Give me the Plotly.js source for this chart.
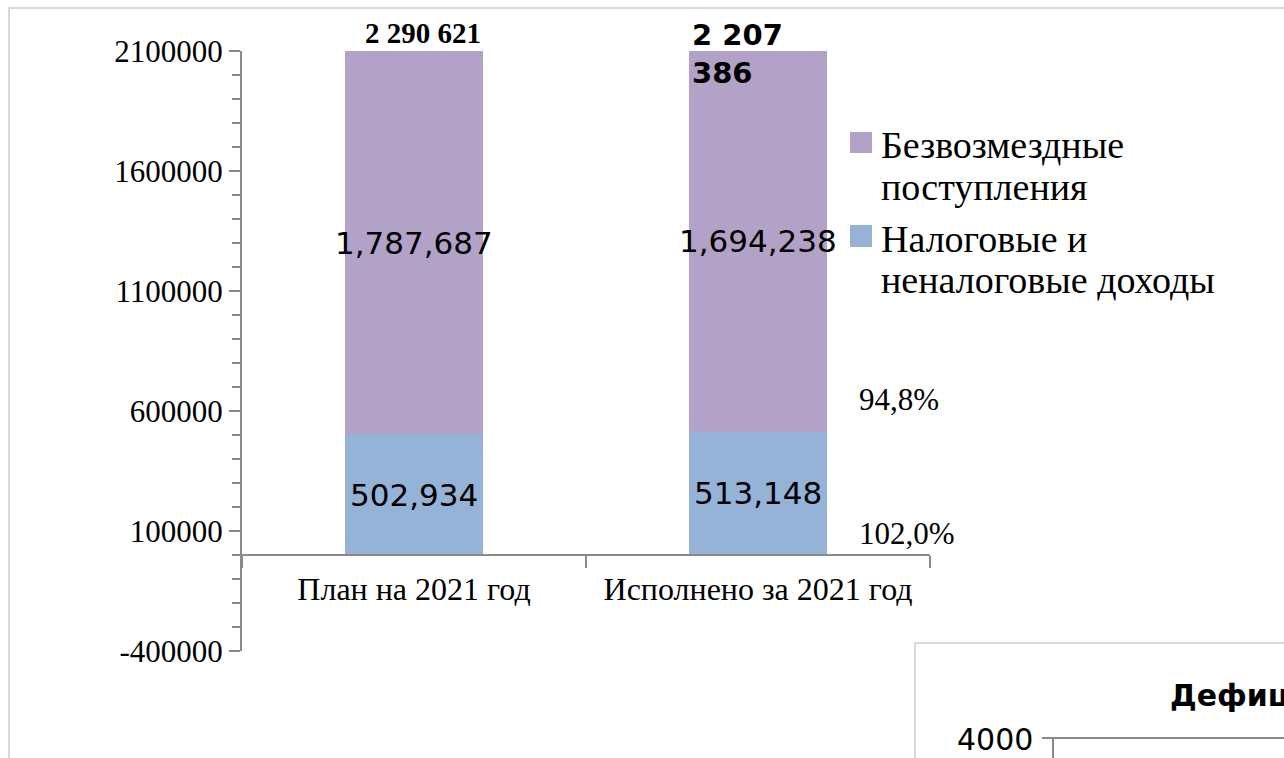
<!DOCTYPE html>
<html>
<head>
<meta charset="utf-8">
<script src="https://cdn.plot.ly/plotly-3.0.1.min.js"></script>
<style>
  html, body { margin: 0; padding: 0; background: #ffffff; }
  #chart { width: 1284px; height: 758px; }
</style>
</head>
<body>
<div id="chart"></div>
<script>
// ---- data ----
const categories = ['План на 2021 год', 'Исполнено за 2021 год'];
const taxIncome = [502934, 513148];          // Налоговые и неналоговые доходы
const grants = [1787687, 1694238];           // Безвозмездные поступления
const totalLabels = ['2 290 621', '2 207<br>386'];
const percentLabels = ['94,8%', '102,0%'];
const seriesNames = ['Налоговые и неналоговые доходы', 'Безвозмездные поступления'];
const legendLines = [['Безвозмездные', 'поступления'], ['Налоговые и', 'неналоговые доходы']];
const yTickVals = [-400000, 100000, 600000, 1100000, 1600000, 2100000];
const yTickText = ['-400000', '100000', '600000', '1100000', '1600000', '2100000'];
const yRange = [-400000, 2100000];
const deficitTitle = 'Дефицит';
const deficitTick = '4000';

// ---- styling ----
const BLUE = '#95B3D7';
const PURPLE = '#B3A2C7';
const AXIS = '#8a8a8a';
const SERIF = '"Liberation Serif", "Times New Roman", serif';
const SANS = '"DejaVu Sans", sans-serif';

const fmt = v => v.toLocaleString('en-US');
const px = v => (v - 242) / 688;
const py = v => (651 - v) / 600;

const traces = [
  { type: 'bar', name: seriesNames[0], x: categories, y: taxIncome,
    marker: { color: BLUE }, hoverinfo: 'skip', showlegend: false },
  { type: 'bar', name: seriesNames[1], x: categories, y: grants,
    marker: { color: PURPLE }, hoverinfo: 'skip', showlegend: false }
];

const annotations = [];
categories.forEach((c, i) => {
  annotations.push({ x: c, y: taxIncome[i] / 2, xref: 'x', yref: 'y', text: fmt(taxIncome[i]),
    showarrow: false, font: { family: SANS, size: 31, color: '#000' } });
  const top = Math.min(taxIncome[i] + grants[i], yRange[1]);
  annotations.push({ x: c, y: (taxIncome[i] + top) / 2, xref: 'x', yref: 'y', text: fmt(grants[i]),
    showarrow: false, font: { family: SANS, size: 31, color: '#000' } });
});
// totals above bars
annotations.push({ x: 0, xshift: 9, y: 1, xref: 'x', yref: 'paper', yanchor: 'bottom', yshift: 0,
  text: '<b>' + totalLabels[0] + '</b>', showarrow: false,
  font: { family: SERIF, size: 29, color: '#000' } });
annotations.push({ x: 0.8, xshift: 1, y: 1, xref: 'x', yref: 'paper', xanchor: 'left', yanchor: 'middle', yshift: -3,
  text: '<b>' + totalLabels[1] + '</b>', showarrow: false, align: 'left',
  font: { family: SANS, size: 29, color: '#000' } });
// execution percents
annotations.push({ x: px(857), y: py(399), xref: 'paper', yref: 'paper', xanchor: 'left', yanchor: 'middle',
  text: percentLabels[0], showarrow: false, font: { family: SERIF, size: 31, color: '#000' } });
annotations.push({ x: px(857), y: py(533), xref: 'paper', yref: 'paper', xanchor: 'left', yanchor: 'middle',
  text: percentLabels[1], showarrow: false, font: { family: SERIF, size: 31, color: '#000' } });
// legend (custom, matching line spacing)
const legendCenters = [[145, 187], [239, 280]];
legendLines.forEach((lines, i) => {
  lines.forEach((t, j) => {
    annotations.push({ x: px(879), y: py(legendCenters[i][j]), xref: 'paper', yref: 'paper',
      xanchor: 'left', yanchor: 'middle', text: t, showarrow: false,
      font: { family: SERIF, size: 38, color: '#000' } });
  });
});
// second (partial) chart
annotations.push({ x: px(1168), y: py(695), xref: 'paper', yref: 'paper',
  xanchor: 'left', yanchor: 'middle', text: '<b>' + deficitTitle + '</b>', showarrow: false,
  font: { family: SANS, size: 30, color: '#000' } });
annotations.push({ x: px(1035), y: py(739), xref: 'paper', yref: 'paper',
  xanchor: 'right', yanchor: 'middle', text: deficitTick, showarrow: false,
  font: { family: SANS, size: 30, color: '#000' } });

const shapes = [
  { type: 'rect', xref: 'paper', yref: 'paper', x0: px(9), x1: px(1300), y0: py(780), y1: py(8),
    line: { color: '#d9d9d9', width: 2 }, layer: 'below' },
  { type: 'rect', xref: 'paper', yref: 'paper', x0: px(915), x1: px(1300), y0: py(780), y1: py(643),
    line: { color: '#d9d9d9', width: 2 }, fillcolor: 'rgba(0,0,0,0)' },
  { type: 'line', xref: 'paper', yref: 'paper', x0: px(1042), x1: px(1300), y0: py(738), y1: py(738),
    line: { color: AXIS, width: 2 } },
  { type: 'line', xref: 'paper', yref: 'paper', x0: px(1053), x1: px(1053), y0: py(738), y1: py(780),
    line: { color: AXIS, width: 2 } },
  // legend swatches
  { type: 'rect', xref: 'paper', yref: 'paper', x0: px(850), x1: px(872), y0: py(153), y1: py(132),
    line: { width: 0 }, fillcolor: PURPLE },
  { type: 'rect', xref: 'paper', yref: 'paper', x0: px(850), x1: px(872), y0: py(247), y1: py(225),
    line: { width: 0 }, fillcolor: BLUE }
];

const layout = {
  width: 1284, height: 758,
  margin: { l: 242, r: 354, t: 51, b: 107 },
  paper_bgcolor: '#ffffff', plot_bgcolor: '#ffffff',
  barmode: 'stack', bargap: 0.6,
  showlegend: false,
  xaxis: {
    type: 'category', range: [-0.5, 1.5], anchor: 'free', position: 0.16,
    showline: true, linecolor: AXIS, linewidth: 2,
    ticks: 'outside', tickson: 'boundaries', ticklen: 12, tickwidth: 2, tickcolor: AXIS,
    ticklabelstandoff: 6,
    showgrid: false, zeroline: false,
    tickfont: { family: SERIF, size: 32, color: '#000' }
  },
  yaxis: {
    range: yRange, showline: true, linecolor: AXIS, linewidth: 2,
    tickmode: 'array', tickvals: yTickVals, ticktext: yTickText,
    ticks: 'outside', ticklen: 11, tickwidth: 2, tickcolor: AXIS,
    minor: { dtick: 100000, tick0: 100000, ticks: 'outside', ticklen: 8, tickwidth: 2, tickcolor: AXIS, showgrid: false },
    showgrid: false, zeroline: false,
    tickfont: { family: SERIF, size: 31, color: '#000' }
  },
  annotations: annotations,
  shapes: shapes
};

Plotly.newPlot('chart', traces, layout, { displayModeBar: false, staticPlot: true });
</script>
</body>
</html>
